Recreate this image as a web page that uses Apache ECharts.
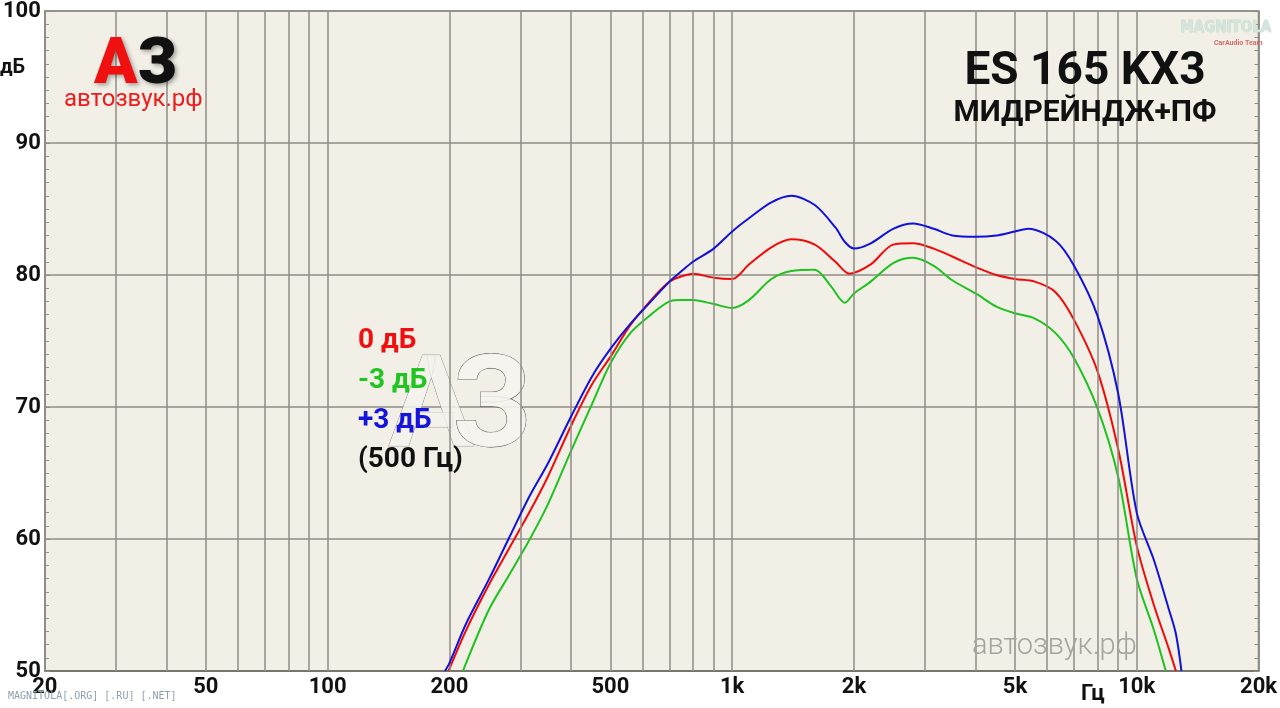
<!DOCTYPE html>
<html>
<head>
<meta charset="utf-8">
<script src="https://cdn.jsdelivr.net/npm/echarts@6/dist/echarts.min.js"></script>
<style>
html,body{margin:0;padding:0;background:#ffffff;}
#chart{width:1280px;height:708px;}
</style>
</head>
<body>
<div id="chart"></div>
<script>
// ---- data ----
const xTickLabels = [20, 50, 100, 200, 500, 1000, 2000, 5000, 10000, 20000];
const gridFreqs = [20,30,40,50,60,70,80,90,100,200,300,400,500,600,700,800,900,1000,2000,3000,4000,5000,6000,7000,8000,9000,10000,20000];

const freqBlue = [195,200,220,250,280,315,350,400,450,500,560,630,700,750,800,900,1000,1100,1250,1400,1600,1800,1900,2000,2200,2500,2800,3150,3500,4000,4500,5000,5400,6300,7000,8000,9000,10000,11000,12000,12500,12900];
const valBlue  = [50.0,50.6,53.6,56.9,60.0,63.2,65.7,69.3,72.3,74.4,76.3,78.0,79.5,80.3,81.0,82.0,83.3,84.3,85.5,86.0,85.3,83.6,82.5,82.0,82.4,83.5,83.9,83.5,83.0,82.9,83.0,83.3,83.5,82.6,80.7,76.9,71.0,62.0,58.5,54.7,52.8,50.0];

const freqRed = [199,220,250,280,315,350,400,450,500,560,630,700,750,800,900,1000,1100,1250,1400,1600,1800,1950,2200,2500,2800,3150,3500,4000,4500,5000,5600,6300,7000,8000,9000,10000,11000,12000,12500];
const valRed  = [50.0,53.1,56.5,59.2,62.0,64.7,68.6,71.7,73.8,76.2,78.1,79.5,79.9,80.1,79.8,79.7,80.8,82.1,82.7,82.3,81.0,80.1,80.8,82.3,82.4,82.0,81.4,80.6,80.0,79.7,79.5,78.7,76.6,72.7,66.8,59.5,55.1,51.7,50.0];

const freqGreen = [216,250,280,315,350,400,450,500,560,630,700,750,800,900,1000,1100,1250,1400,1600,1750,1900,2000,2200,2500,2800,3150,3500,4000,4500,5000,5600,6300,7000,8000,9000,10000,11000,11800];
const valGreen  = [50.0,54.6,57.2,59.9,62.6,66.7,70.2,73.3,75.6,77.0,78.0,78.1,78.1,77.8,77.5,78.1,79.7,80.3,80.4,79.2,77.9,78.6,79.5,80.9,81.3,80.7,79.6,78.6,77.6,77.1,76.7,75.6,73.7,69.9,64.7,57.0,53.2,50.0];

const legendLabels = ['0 дБ', '-3 дБ', '+3 дБ', '(500 Гц)'];
const titleMain = 'ES 165 KX3';
const titleSub = 'МИДРЕЙНДЖ+ПФ';

// ---- chart ----
const FONT = 'Roboto, "Noto Sans", sans-serif';
const GRIDC = '#8e8d85';
function pairs(f, v){ return f.map((x,i)=>[x, v[i]]); }
function fmtHz(v){ return v >= 1000 ? (v/1000) + 'k' : String(v); }

const chart = echarts.init(document.getElementById('chart'), null, {renderer:'canvas'});
const lineCommon = {type: 'line', smooth: 0.3, symbol: 'none', silent: true};
const option = {
  backgroundColor: '#ffffff',
  animation: false,
  grid: {left: 42, right: 19, top: 8, bottom: 37, show: true, backgroundColor: '#f1efe6', borderColor: GRIDC, borderWidth: 1.5},
  xAxis: {
    type: 'log', logBase: 10, min: 20, max: 20000,
    axisLine: {show: true, lineStyle: {color: '#777770', width: 2}},
    axisTick: {show: false},
    splitLine: {show: false},
    axisLabel: {customValues: xTickLabels, formatter: fmtHz, color: '#111', fontFamily: FONT, fontWeight: 'bold', fontSize: 22, margin: 5}
  },
  yAxis: [{
    type: 'value', min: 50, max: 100, interval: 10,
    axisLine: {show: true, lineStyle: {color: GRIDC, width: 1.5}},
    axisTick: {show: true, inside: true, length: 5, lineStyle: {color: GRIDC}},
    minorTick: {show: true, splitNumber: 10, length: 4, lineStyle: {color: GRIDC}},
    splitLine: {show: true, lineStyle: {color: GRIDC, width: 1.5}},
    axisLabel: {color: '#111', fontFamily: FONT, fontWeight: 'bold', fontSize: 22, margin: 4}
  },{
    type: 'value', min: 50, max: 100, interval: 10, position: 'right',
    axisLine: {show: true, lineStyle: {color: GRIDC, width: 1.5}},
    axisTick: {show: true, inside: true, length: 5, lineStyle: {color: GRIDC}},
    minorTick: {show: true, splitNumber: 10, length: 4, lineStyle: {color: GRIDC}},
    splitLine: {show: false},
    axisLabel: {show: false}
  }],
  series: [
    {type: 'line', data: [], z: 1, silent: true,
     markLine: {silent: true, symbol: 'none', label: {show: false}, animation: false,
       lineStyle: {type: 'solid', color: GRIDC, width: 1.5},
       data: gridFreqs.map(f => ({xAxis: f}))}},
    Object.assign({name: '-3 дБ', data: pairs(freqGreen, valGreen), z: 3, lineStyle: {color: '#1fc21f', width: 2}}, lineCommon),
    Object.assign({name: '0 дБ', data: pairs(freqRed, valRed), z: 4, lineStyle: {color: '#f00a0a', width: 2}}, lineCommon),
    Object.assign({name: '+3 дБ', data: pairs(freqBlue, valBlue), z: 5, lineStyle: {color: '#1212d8', width: 2}}, lineCommon)
  ],
  graphic: [
    // watermark big А3 outline
    {type: 'text', left: 388, top: 350, z: 2, silent: true,
     style: {text: 'А', font: 'bold 128px ' + FONT, fill: 'rgba(243,242,236,0.85)', stroke: '#6a6a6a', lineWidth: 0.6}},
    {type: 'text', left: 452, top: 350, z: 2, silent: true,
     style: {text: 'З', font: 'bold 128px ' + FONT, fill: 'rgba(245,244,239,0.9)', stroke: '#3a3a3a', lineWidth: 0.8}},
    // logo
    {type: 'text', left: 94, top: 35, z: 10,
     style: {text: '{a|А}{b|З}', rich: {
       a: {fill: '#f01010', font: '900 64px ' + FONT, textShadowColor: 'rgba(0,0,0,0.35)', textShadowBlur: 4, textShadowOffsetX: 2, textShadowOffsetY: 2},
       b: {fill: '#111', font: '900 64px ' + FONT, textShadowColor: 'rgba(0,0,0,0.35)', textShadowBlur: 4, textShadowOffsetX: 2, textShadowOffsetY: 2}}}},
    {type: 'text', left: 64, top: 88, z: 10, style: {text: 'автозвук.рф', fill: '#ee1c1c', font: '24px ' + FONT}},
    {type: 'text', left: 0, top: 58, z: 10, style: {text: 'дБ', fill: '#111', font: 'bold 20px ' + FONT}},
    {type: 'text', left: 1081, top: 683, z: 10, style: {text: 'Гц', fill: '#111', font: 'bold 22px ' + FONT}},
    // titles
    {type: 'text', z: 10, x: 1085, y: 72, style: {text: titleMain, fill: '#111', font: 'bold 46px ' + FONT, align: 'center', verticalAlign: 'middle'}},
    {type: 'text', z: 10, x: 1085, y: 113, style: {text: titleSub, fill: '#111', font: 'bold 30px ' + FONT, align: 'center', verticalAlign: 'middle'}},
    // legend texts
    {type: 'text', z: 10, left: 358, top: 327, style: {text: legendLabels[0], fill: '#f01010', font: 'bold 28px ' + FONT}},
    {type: 'text', z: 10, left: 358, top: 367, style: {text: legendLabels[1], fill: '#22c422', font: 'bold 28px ' + FONT}},
    {type: 'text', z: 10, left: 358, top: 407, style: {text: legendLabels[2], fill: '#1414dc', font: 'bold 28px ' + FONT}},
    {type: 'text', z: 10, left: 358, top: 446, style: {text: legendLabels[3], fill: '#111', font: 'bold 28px ' + FONT}},
    // watermarks
    {type: 'text', z: 10, left: 972, top: 632, style: {text: 'автозвук.рф', fill: '#a3a3a0', font: '300 29px ' + FONT}},
    {type: 'text', z: 10, left: 8, top: 691, style: {text: 'MAGNITOLA[.ORG] [.RU] [.NET]', fill: '#8fa0ad', font: '10px "DejaVu Sans Mono", monospace'}},
    {type: 'text', z: 10, left: 1180, top: 20, style: {text: 'MAGNITOLA', fill: '#d3e5dc', font: 'bold 15px "DejaVu Sans Condensed", sans-serif', stroke: '#b5cfc2', lineWidth: 0.5}},
    {type: 'text', z: 10, left: 1214, top: 40, style: {text: 'CarAudio Team', fill: '#d46a6a', font: 'bold 7px ' + FONT}}
  ]
};
chart.setOption(option);
</script>
</body>
</html>
